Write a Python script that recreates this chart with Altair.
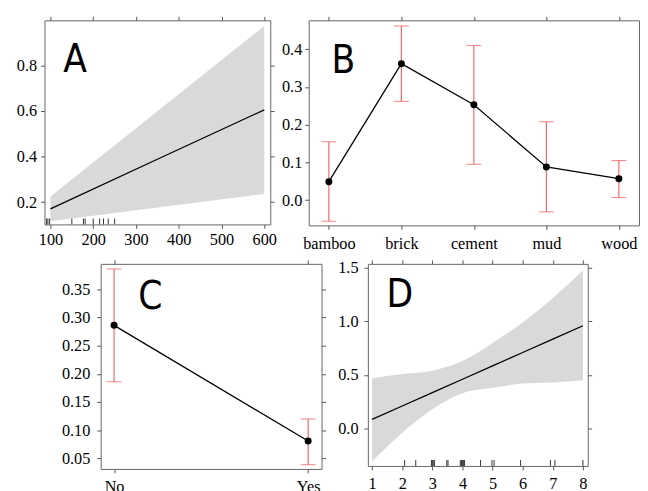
import altair as alt
import pandas as pd

# ---------------- data ----------------
# Panel A (continuous effect with confidence band)
a_x = [100, 350, 600]
a_fit = [0.170, 0.388, 0.605]
a_lower = [0.116, 0.176, 0.236]
a_upper = [0.225, 0.599, 0.973]
a_rug = [91, 94, 98, 150, 177, 181, 200, 215, 224, 235, 250]
a_xticks = [100, 200, 300, 400, 500, 600]
a_yticks = [0.2, 0.4, 0.6, 0.8]

# Panel B (factor effect)
b_cat = ["bamboo", "brick", "cement", "mud", "wood"]
b_fit = [0.049, 0.362, 0.253, 0.088, 0.057]
b_lower = [-0.056, 0.262, 0.095, -0.031, 0.007]
b_upper = [0.155, 0.462, 0.410, 0.208, 0.105]
b_yticks = [0.0, 0.1, 0.2, 0.3, 0.4]

# Panel C (factor effect)
c_cat = ["No", "Yes"]
c_fit = [0.286, 0.081]
c_lower = [0.186, 0.039]
c_upper = [0.386, 0.120]
c_yticks = [0.05, 0.10, 0.15, 0.20, 0.25, 0.30, 0.35]

# Panel D (continuous effect with confidence band)
d_x = [1, 2, 3, 4, 5, 6, 7, 8]
d_fit = [0.085, 0.21, 0.335, 0.46, 0.585, 0.71, 0.835, 0.96]
d_lower = [-0.31, -0.04, 0.18, 0.33, 0.38, 0.42, 0.43, 0.45]
d_upper = [0.47, 0.51, 0.54, 0.63, 0.80, 0.99, 1.22, 1.48]
d_rug = [2.08, 2.45, 2.97, 3.0, 3.03, 3.07, 3.48, 3.52, 3.93, 3.97, 4.0,
         4.03, 4.07, 4.6, 4.98, 5.05, 5.93, 6.92, 7.07, 8.0]
d_xticks = [1, 2, 3, 4, 5, 6, 7, 8]
d_yticks = [0.0, 0.5, 1.0, 1.5]

letters = ["A", "B", "C", "D"]

# ---------------- style ----------------
SERIF = "Liberation Serif"
LETTER_FONT = "Liberation Sans Narrow, DejaVu Sans Condensed, Liberation Sans, sans-serif"
TICK = "#555555"
RED = "#f25c5c"
BAND = "#d9d9d9"
FS = 16.5


def prim(values, fmt=None, pad=4):
    kw = dict(values=values, title=None, domain=False, grid=False, tickSize=4,
              tickColor=TICK, labelFont=SERIF, labelFontSize=FS, labelColor="black",
              labelPadding=pad, labelFlush=False, labelOverlap=False)
    if fmt:
        kw["format"] = fmt
    return alt.Axis(**kw)


def sec(values, orient):
    return alt.Axis(values=values, title=None, domain=False, grid=False, tickSize=4,
                    tickColor=TICK, labels=False, orient=orient)


def letter(ch, x, y):
    return alt.Chart(pd.DataFrame({"t": [ch]})).mark_text(
        font=LETTER_FONT, fontSize=39, align="left", baseline="alphabetic", color="black"
    ).encode(text="t:N", x=alt.value(x), y=alt.value(y))


def band_panel(xs, fit, lo, hi, rug, xticks, yticks, xdom, ydom, w, h, ch, lx, ly,
               yfmt, xpad, ypad, interp):
    df = pd.DataFrame({"x": xs, "fit": fit, "lo": lo, "hi": hi})
    xsc = alt.Scale(domain=xdom, nice=False, zero=False)
    ysc = alt.Scale(domain=ydom, nice=False, zero=False)
    band = alt.Chart(df).mark_area(color=BAND, interpolate=interp).encode(
        x=alt.X("x:Q", scale=xsc, axis=prim(xticks, "d", xpad)),
        y=alt.Y("lo:Q", scale=ysc, axis=prim(yticks, yfmt, ypad)),
        y2="hi:Q",
    )
    line = alt.Chart(df).mark_line(color="black", strokeWidth=1.3).encode(
        x=alt.X("x:Q", scale=xsc, axis=sec(xticks, "top")),
        y=alt.Y("fit:Q", scale=ysc, axis=sec(yticks, "right")),
    )
    rugc = alt.Chart(pd.DataFrame({"r": rug})).mark_rule(color="#333333", strokeWidth=1).encode(
        x=alt.X("r:Q", scale=xsc, axis=None),
        y=alt.value(h - 6), y2=alt.value(h),
    )
    return alt.layer(band, line, rugc, letter(ch, lx, ly)).resolve_axis(
        x="independent", y="independent").properties(width=w, height=h)


def factor_panel(cats, fit, lo, hi, yticks, ydom, pad, w, h, ch, lx, ly, yfmt, xpad, ypad,
                 right_ticks=True):
    df = pd.DataFrame({"c": cats, "fit": fit, "lo": lo, "hi": hi})
    xsc = alt.Scale(type="point", domain=cats, padding=pad)
    ysc = alt.Scale(domain=ydom, nice=False, zero=False)
    X = lambda ax: alt.X("c:N", scale=xsc, sort=cats, axis=ax)
    line = alt.Chart(df).mark_line(color="black", strokeWidth=1.3).encode(
        x=X(alt.Axis(title=None, domain=False, grid=False, tickSize=4, tickColor=TICK,
                     labelFont=SERIF, labelFontSize=FS, labelColor="black",
                     labelPadding=xpad, labelAngle=0)),
        y=alt.Y("fit:Q", scale=ysc, axis=prim(yticks, yfmt, ypad)),
    )
    rules = alt.Chart(df).mark_rule(color=RED, strokeWidth=1.1).encode(
        x=X(alt.Axis(title=None, domain=False, grid=False, tickSize=4, tickColor=TICK,
                     labels=False, orient="top")),
        y=alt.Y("lo:Q", scale=ysc, axis=sec(yticks, "right") if right_ticks else None),
        y2="hi:Q",
    )
    cap_lo = alt.Chart(df).mark_tick(color=RED, size=15, thickness=1.1, orient="horizontal").encode(
        x=X(None), y=alt.Y("lo:Q", scale=ysc, axis=None))
    cap_hi = alt.Chart(df).mark_tick(color=RED, size=15, thickness=1.1, orient="horizontal").encode(
        x=X(None), y=alt.Y("hi:Q", scale=ysc, axis=None))
    pts = alt.Chart(df).mark_circle(color="black", size=50, opacity=1).encode(
        x=X(None), y=alt.Y("fit:Q", scale=ysc, axis=None))
    return alt.layer(rules, cap_lo, cap_hi, line, pts, letter(ch, lx, ly)).resolve_axis(
        x="independent", y="independent").properties(width=w, height=h)


A = band_panel(a_x, a_fit, a_lower, a_upper, a_rug, a_xticks, a_yticks,
               [86, 614], [0.102, 0.998], 229, 207, letters[0], 19, 52, ".1f", 3, 4, "linear")
B = factor_panel(b_cat, b_fit, b_lower, b_upper, b_yticks, [-0.067, 0.477], 0.278,
                 335, 208, letters[1], 23, 53, ".1f", 6, 3, right_ticks=False)
C = factor_panel(c_cat, c_fit, c_lower, c_upper, c_yticks, [0.0314, 0.395], 0.069,
                 224, 208, letters[2], 38, 46, ".2f", 6, 7)
D = band_panel(d_x, d_fit, d_lower, d_upper, d_rug, d_xticks, d_yticks,
               [0.86, 8.16], [-0.351, 1.539], 223, 205, letters[3], 19, 44, ".1f", 6, 6,
               "monotone")

spacer = alt.Chart(pd.DataFrame({"v": [0]})).mark_point(opacity=0).encode(
    x=alt.X("v:Q", axis=None), y=alt.Y("v:Q", axis=None)
).properties(width=10, height=10, view=alt.ViewBackground(strokeOpacity=0))

row1 = alt.hconcat(A, B, spacing=39, bounds="flush")
row2 = alt.hconcat(spacer, C, D, spacing=47, bounds="flush")

chart = alt.vconcat(row1, row2, spacing=7).configure_view(
    stroke="#666666", strokeWidth=1
).properties(padding={"left": 7, "top": 4, "right": 0, "bottom": 0})

chart.save("out.html", embed_options={"renderer": "svg", "actions": False})
